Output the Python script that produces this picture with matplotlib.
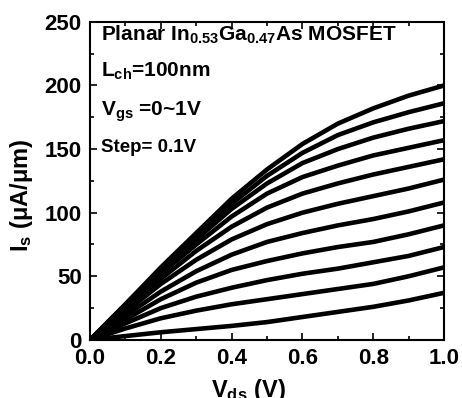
import matplotlib
matplotlib.use("Agg")
from matplotlib import pyplot as plt
from matplotlib.ticker import MultipleLocator

plt.rcParams['font.family'] = ['Liberation Sans', 'DejaVu Sans']
plt.rcParams['font.weight'] = 'bold'
plt.rcParams['mathtext.fontset'] = 'custom'
plt.rcParams['mathtext.rm'] = 'Liberation Sans:bold'
plt.rcParams['mathtext.bf'] = 'Liberation Sans:bold'
plt.rcParams['mathtext.it'] = 'Liberation Sans:bold'
plt.rcParams['mathtext.default'] = 'bf'

# drain voltage (V)
vds = [0.0, 0.1, 0.2, 0.3, 0.4, 0.5, 0.6, 0.7, 0.8, 0.9, 1.0]

# source current (uA/um), Vgs = 0 ... 1.0 V in 0.1 V steps
i_vg00 = [0, 3, 6, 8.5, 11, 14, 18, 22, 26, 31, 37]
i_vg01 = [0, 9, 17, 23, 28, 32, 36, 40, 44, 50, 57]
i_vg02 = [0, 13, 25, 34, 41, 47, 52, 56, 61, 66, 73]
i_vg03 = [0, 16, 32, 45, 55, 62, 68, 73, 77, 83, 90]
i_vg04 = [0, 19, 38, 54, 67, 77, 84, 90, 95, 101, 108]
i_vg05 = [0, 22, 44, 63, 79, 91, 100, 107, 113, 119, 126]
i_vg06 = [0, 24, 48, 70, 89, 104, 115, 123, 130, 136, 142]
i_vg07 = [0, 26, 52, 75, 97, 115, 128, 137, 145, 151, 157]
i_vg08 = [0, 27, 54, 79, 103, 123, 139, 150, 159, 166, 172]
i_vg09 = [0, 28, 56, 82, 107, 129, 147, 161, 171, 179, 186]
i_vg10 = [0, 28, 57, 84, 111, 134, 154, 170, 182, 192, 200]

curves = [i_vg00, i_vg01, i_vg02, i_vg03, i_vg04, i_vg05,
          i_vg06, i_vg07, i_vg08, i_vg09, i_vg10]

fig = plt.figure(figsize=(4.62, 3.98), dpi=100)
ax = fig.add_axes([0.195, 0.146, 0.766, 0.799])

for c in curves:
    ax.plot(vds, c, color='black', linewidth=3.3, solid_capstyle='round',
            solid_joinstyle='round')

ax.set_xlim(0, 1.0)
ax.set_ylim(0, 250)
ax.xaxis.set_major_locator(MultipleLocator(0.2))
ax.xaxis.set_minor_locator(MultipleLocator(0.1))
ax.yaxis.set_major_locator(MultipleLocator(50))
ax.yaxis.set_minor_locator(MultipleLocator(25))
ax.tick_params(which='both', direction='in', top=True, right=True, width=1.2)
ax.tick_params(which='major', length=5, labelsize=16)
ax.tick_params(axis='y', which='major', pad=6)
ax.tick_params(axis='x', which='major', pad=6)
ax.tick_params(which='minor', length=3)
for s in ax.spines.values():
    s.set_linewidth(1.5)

ax.set_ylabel(r'I$_s$ ($\mu$A/$\mu$m)', fontsize=17, fontweight='bold')
ax.yaxis.set_label_coords(-0.155, 0.456)
fig.text(248 / 462, 1 - 377 / 398, r'V$_{ds}$ (V)', fontsize=17,
         fontweight='bold', ha='center', va='top')

tx = 0.03
ax.text(tx, 240, r'Planar In$_{0.53}$Ga$_{0.47}$As MOSFET', fontsize=15, va='center')
ax.text(tx, 211, r'L$_{ch}$=100nm', fontsize=15, va='center')
ax.text(tx, 179, r'V$_{gs}$ =0~1V', fontsize=15, va='center')
ax.text(tx, 151, 'Step= 0.1V', fontsize=13.5, va='center')

fig.savefig('out.png', dpi=100)
